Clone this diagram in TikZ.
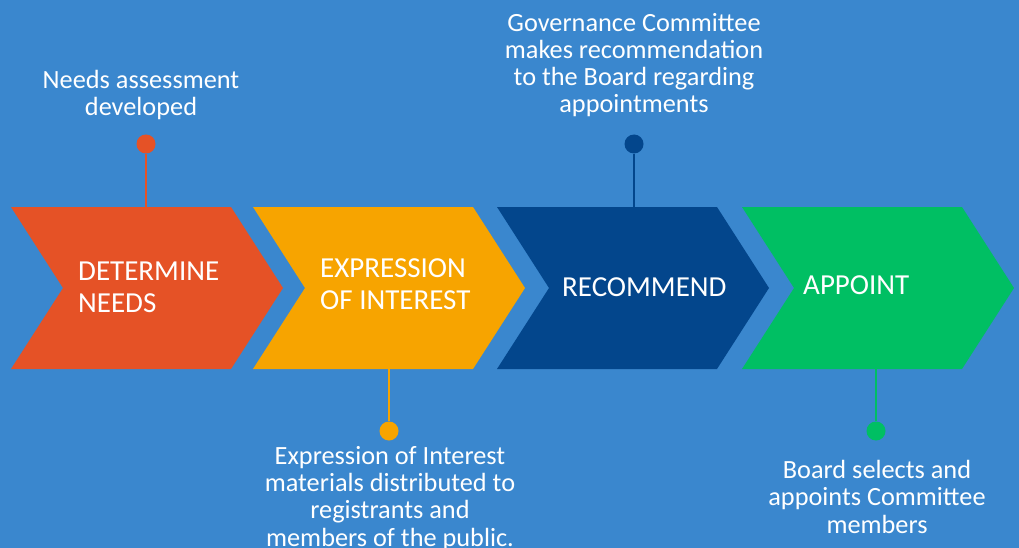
\documentclass[tikz,border=0pt]{standalone}
\usepackage{fontspec}
\setmainfont{Carlito}
\definecolor{bg}{RGB}{58,135,206}
\definecolor{cred}{RGB}{229,82,38}
\definecolor{cyel}{RGB}{247,164,0}
\definecolor{cblu}{RGB}{3,70,140}
\definecolor{cgrn}{RGB}{0,191,99}
\begin{document}
\begin{tikzpicture}[x=1pt,y=-1pt,
  steptext/.style={text=white,align=left,anchor=base west,inner sep=0pt,font=\fontsize{29}{32}\selectfont},
  pintext/.style={text=white,align=center,anchor=base,inner sep=0pt,font=\fontsize{26.3}{27.2}\selectfont},
  pindot/.style={circle,inner sep=0pt,minimum size=19pt},
  pinline/.style={line width=1.6pt}]
\fill[bg] (0,0) rectangle (1019,548);
\useasboundingbox (0,0) rectangle (1019,548);
% chevrons
\foreach \x/\c/\n in {11/cred/a,253/cyel/b,497/cblu/c,742/cgrn/d}{
  \fill[\c] (\x,207) -- ++(220,0) -- ++(52,81) -- ++(-52,81) -- ++(-220,0) -- ++(52,-81) -- cycle;
}
\coordinate (atop) at (146,207);
\coordinate (bbot) at (389,369);
\coordinate (ctop) at (634,207);
\coordinate (dbot) at (876,369);
% step texts (anchor = baseline of last line)
\node[steptext] (ta) at (78,312) {DETERMINE\\NEEDS};
\node[steptext] (tb) at (320,309) {EXPRESSION\\OF INTEREST};
\node[steptext] (tc) at (562,296) {RECOMMEND};
\node[steptext] (td) at (803,294) {APPOINT};
% pins
\node[pindot,fill=cred] (pa) at (146,144) {};
\node[pindot,fill=cyel] (pb) at (389,431) {};
\node[pindot,fill=cblu] (pc) at (634,144) {};
\node[pindot,fill=cgrn] (pd) at (876,431) {};
\draw[pinline,cred] (pa) -- (atop);
\draw[pinline,cyel] (pb) -- (bbot);
\draw[pinline,cblu] (pc) -- (ctop);
\draw[pinline,cgrn] (pd) -- (dbot);
% labels (anchor = baseline of last line)
\node[pintext] (la) at (141,116) {Needs assessment\\developed};
\node[pintext] (lc) at (634,113) {Governance Committee\\makes recommendation\\to the Board regarding\\appointments};
\node[pintext] (lb) at (390,546) {Expression of Interest\\materials distributed to\\registrants and\\members of the public.};
\node[pintext] (ld) at (877,533) {Board selects and\\appoints Committee\\members};
\end{tikzpicture}
\end{document}
